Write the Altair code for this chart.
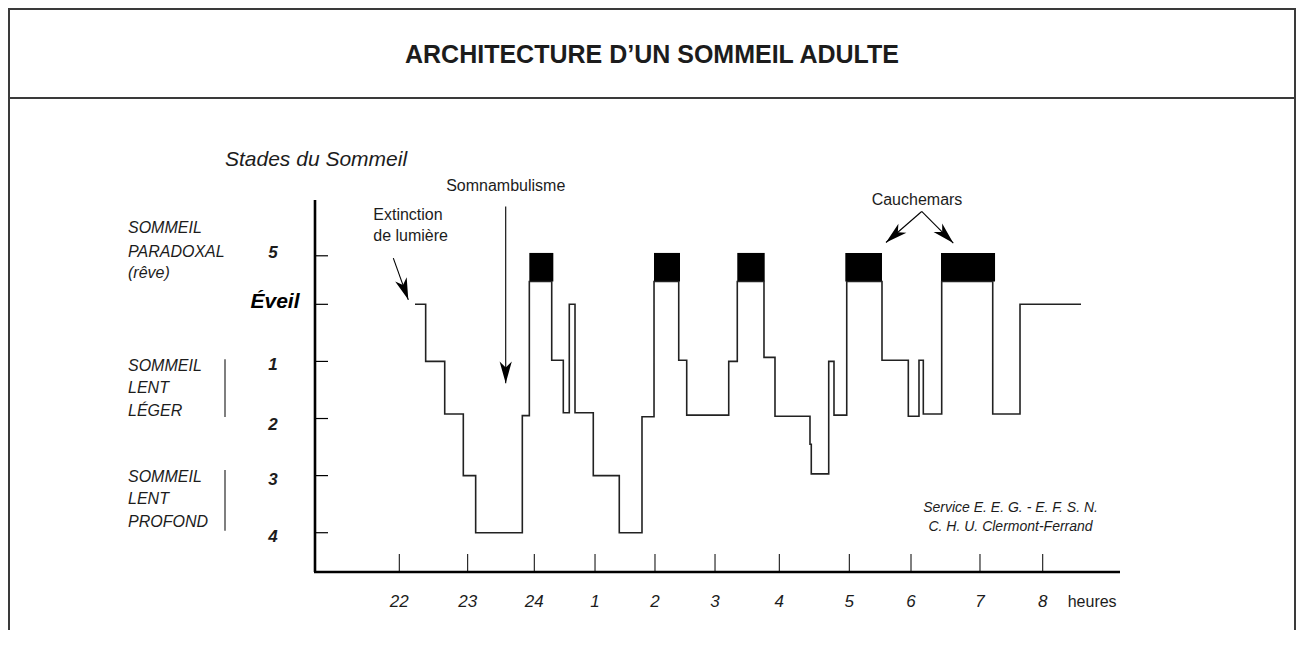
import math
import altair as alt
import pandas as pd

# ---------------- data ----------------
# time axis in hours (24 = midnight, 25 = 1 h, ... 32 = 8 h)
hyp_time = [22.244, 22.410, 22.706, 22.995, 23.187, 23.912, 24.021, 24.369, 24.549, 24.642,
            24.731, 25.015, 25.419, 25.772, 25.959, 26.343, 26.467, 27.120, 27.253, 27.668,
            27.839, 28.383, 28.403, 28.674, 28.756, 28.954, 29.502, 29.911, 30.077, 30.144,
            30.430, 31.223, 31.647, 32.595]
# vertical level: 0 = Éveil, -1..-4 = stades 1..4, 0.40 = sommeil paradoxal
hyp_level = [0, -1, -1.92, -3, -4, -1.95, 0.40, -0.98, -1.90, 0,
             -1.90, -3, -4, -1.97, 0.40, -0.98, -1.94, -1.0, 0.40, -0.93,
             -1.96, -2.45, -2.97, -1.0, -1.94, 0.40, -0.98, -1.96, -0.98, -1.92,
             0.40, -1.92, 0, 0]

rem_start = [24.021, 25.959, 27.253, 28.932, 30.419]
rem_end = [24.394, 26.363, 27.679, 29.502, 31.259]
rem_low = 0.40
rem_high = 0.90

stage_tick_pos = [0.85, 0, -1, -2, -3, -4]
stage_labels = ["5", "Éveil", "1", "2", "3", "4"]
stage_label_y = [0.897, 0.045, -1.061, -2.113, -3.076, -4.07]

hour_tick_pos = [22.0, 23.063, 24.098, 25.042, 25.974, 26.907, 27.906, 28.994, 29.953, 31.025, 32.0]
hour_labels = ["22", "23", "24", "1", "2", "3", "4", "5", "6", "7", "8"]

side_text = ["SOMMEIL", "PARADOXAL", "(rêve)",
             "SOMMEIL", "LENT", "LÉGER",
             "SOMMEIL", "LENT", "PROFOND"]
side_text_y = [1.335, 0.925, 0.546, -1.079, -1.469, -1.867, -3.029, -3.415, -3.807]
bracket_top = [-0.961, -2.901]
bracket_bottom = [-1.975, -3.965]

note_text = ["Extinction", "de lumière", "Somnambulisme", "Cauchemars"]
note_x = [21.596, 21.596, 23.654, 30.046]
note_y = [1.568, 1.188, 2.076, 1.831]
note_align = ["left", "left", "center", "center"]

arrow_x1 = [21.907, 23.654, 30.119, 30.119]
arrow_y1 = [0.809, 1.713, 1.626, 1.626]
arrow_x2 = [22.140, 23.654, 29.564, 30.610]
arrow_y2 = [0.078, -1.382, 1.082, 1.072]

credit_text = ["Service E. E. G. - E. F. S. N.", "C. H. U. Clermont-Ferrand"]
credit_x = 31.50
credit_y = [-3.572, -3.895]

title_text = "ARCHITECTURE D’UN SOMMEIL ADULTE"
y_title_text = "Stades du Sommeil"
y_title_x, y_title_y = 19.291, 2.519
unit_text = "heures"
unit_x = 32.388

# ---------------- chart ----------------
W, H = 805, 372
XD = [20.690, 33.201]
YD = [-4.688, 1.827]
xs = alt.Scale(domain=XD, nice=False, zero=False)
ys = alt.Scale(domain=YD, nice=False, zero=False)
FONT = "Liberation Sans"
INK = "#1c1c1c"


def X(f):
    return alt.X(f, type="quantitative", scale=xs, axis=None)


def X2(f):
    return alt.X2(f)


def Y(f):
    return alt.Y(f, type="quantitative", scale=ys, axis=None)


one = pd.DataFrame({"k": [0]})

hyp = pd.DataFrame({"t": hyp_time, "lvl": hyp_level, "i": range(len(hyp_time))})
trace = alt.Chart(hyp).mark_line(interpolate="step-after", color="#222222", strokeWidth=1.6).encode(
    x=X("t"), y=Y("lvl"), order=alt.Order("i:Q"))

rem = pd.DataFrame({"a": rem_start, "b": rem_end, "lo": [rem_low] * 5, "hi": [rem_high] * 5})
rem_boxes = alt.Chart(rem).mark_rect(color="black").encode(
    x=X("a"), x2=X2("b"), y=Y("lo"), y2=alt.Y2("hi"))

# axis lines
yaxis = alt.Chart(one).mark_rule(color="black", strokeWidth=2.6).encode(
    x=alt.value(0), y=alt.value(0), y2=alt.value(H))
xaxis = alt.Chart(one).mark_rule(color="black", strokeWidth=2.6).encode(
    x=alt.value(-1), x2=alt.value(W), y=alt.value(H))

ytick_df = pd.DataFrame({"v": stage_tick_pos})
yticks = alt.Chart(ytick_df).mark_rule(color="black", strokeWidth=1.2).encode(
    x=alt.value(0), x2=alt.value(13), y=Y("v"))

xtick_df = pd.DataFrame({"v": hour_tick_pos, "lab": hour_labels})
xticks = alt.Chart(xtick_df).mark_rule(color="black", strokeWidth=1).encode(
    x=X("v"), y=alt.value(H), y2=alt.value(H - 18))
xlabels = alt.Chart(xtick_df).mark_text(font=FONT, fontSize=17, fontStyle="italic", color=INK,
                                        baseline="middle", align="center").encode(
    x=X("v"), y=alt.value(H + 30), text="lab:N")
unit = alt.Chart(one).mark_text(font=FONT, fontSize=16, color=INK, baseline="middle", align="left",
                                text=unit_text).encode(
    x=alt.datum(unit_x, type="quantitative", scale=xs, axis=None), y=alt.value(H + 30))

stage_df = pd.DataFrame({"lab": stage_labels, "y": stage_label_y})
stage_nums = alt.Chart(stage_df[stage_df.lab != "Éveil"]).mark_text(
    font=FONT, fontSize=17, fontStyle="italic", fontWeight="bold", color=INK,
    align="center", baseline="middle").encode(x=alt.value(-42), y=Y("y"), text="lab:N")
eveil = alt.Chart(stage_df[stage_df.lab == "Éveil"]).mark_text(
    font=FONT, fontSize=21, fontStyle="italic", fontWeight="bold", color="black",
    align="center", baseline="middle").encode(x=alt.value(-40), y=Y("y"), text="lab:N")

side_df = pd.DataFrame({"txt": side_text, "y": side_text_y})
side = alt.Chart(side_df).mark_text(font=FONT, fontSize=16, fontStyle="italic", color=INK,
                                    align="left", baseline="middle").encode(
    x=alt.value(-187), y=Y("y"), text="txt:N")
br_df = pd.DataFrame({"a": bracket_top, "b": bracket_bottom})
brackets = alt.Chart(br_df).mark_rule(color="#555555", strokeWidth=1.5).encode(
    x=alt.value(-90), y=Y("a"), y2=alt.Y2("b"))

ytitle = alt.Chart(pd.DataFrame({"x": [y_title_x], "y": [y_title_y]})).mark_text(
    font=FONT, fontSize=21, fontStyle="italic", color=INK, align="left", baseline="middle",
    text=y_title_text).encode(x=X("x"), y=Y("y"))

note_df = pd.DataFrame({"txt": note_text, "x": note_x, "y": note_y})
notes_left = alt.Chart(note_df[[a == "left" for a in note_align]]).mark_text(
    font=FONT, fontSize=16, color=INK, align="left", baseline="middle").encode(
    x=X("x"), y=Y("y"), text="txt:N")
notes_center = alt.Chart(note_df[[a == "center" for a in note_align]]).mark_text(
    font=FONT, fontSize=16, color=INK, align="center", baseline="middle").encode(
    x=X("x"), y=Y("y"), text="txt:N")

# arrows
px_x = W / (XD[1] - XD[0])
px_y = H / (YD[1] - YD[0])
angles = []
for a, b, c, d in zip(arrow_x1, arrow_y1, arrow_x2, arrow_y2):
    dx = (c - a) * px_x
    dy = -(d - b) * px_y
    angles.append((math.degrees(math.atan2(dx, -dy)) + 360) % 360)
arr_df = pd.DataFrame({"x1": arrow_x1, "y1": arrow_y1, "x2": arrow_x2, "y2": arrow_y2, "ang": angles})
shafts = alt.Chart(arr_df).mark_rule(color="black", strokeWidth=1.1).encode(
    x=X("x1"), y=Y("y1"), x2=X2("x2"), y2=alt.Y2("y2"))
heads = alt.Chart(arr_df).mark_point(
    shape="M0,0 L0.28,1 L0,0.72 L-0.28,1 Z", filled=True, fill="black", color="black",
    opacity=1, strokeWidth=0, size=1900).encode(
    x=X("x2"), y=Y("y2"), angle=alt.Angle("ang:Q", scale=None))

credit_df = pd.DataFrame({"txt": credit_text, "y": credit_y})
credits = alt.Chart(credit_df).mark_text(font=FONT, fontSize=14, fontStyle="italic", color=INK,
                                         align="center", baseline="middle").encode(
    x=alt.datum(credit_x, type="quantitative", scale=xs, axis=None), y=Y("y"), text="txt:N")

# frame + title box
FR = "#3a3a3a"
frame_l = alt.Chart(one).mark_rule(color=FR, strokeWidth=2).encode(
    x=alt.value(-306), y=alt.value(-191), y2=alt.value(440))
frame_r = alt.Chart(one).mark_rule(color=FR, strokeWidth=2).encode(
    x=alt.value(980), y=alt.value(-191), y2=alt.value(440))
frame_t = alt.Chart(one).mark_rule(color=FR, strokeWidth=2).encode(
    x=alt.value(-307), x2=alt.value(981), y=alt.value(-191))
frame_d = alt.Chart(one).mark_rule(color=FR, strokeWidth=2).encode(
    x=alt.value(-307), x2=alt.value(981), y=alt.value(-102))
title = alt.Chart(one).mark_text(font=FONT, fontSize=25, fontWeight="bold", color=INK,
                                 align="center", baseline="middle", text=title_text).encode(
    x=alt.value(337), y=alt.value(-145))

chart = alt.layer(
    frame_l, frame_r, frame_t, frame_d, title,
    rem_boxes, trace, yaxis, xaxis, yticks, xticks, xlabels, unit,
    stage_nums, eveil, side, brackets, ytitle, notes_left, notes_center,
    shafts, heads, credits,
).properties(
    width=W, height=H,
    padding={"left": 307, "top": 192, "right": 176, "bottom": 58},
    autosize=alt.AutoSizeParams(type="none"),
    background="white",
).configure_view(stroke=None)

chart.save("out.html", embed_options={"renderer": "svg", "actions": False})
